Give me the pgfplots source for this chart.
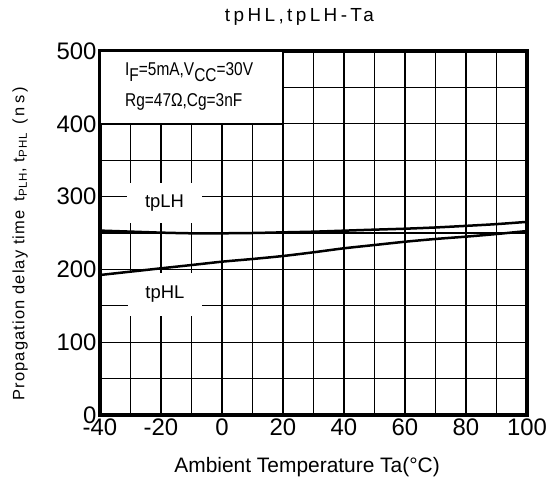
\documentclass[border=0pt]{standalone}
\usepackage{fontspec}
\setmainfont{Liberation Sans}
\usepackage{graphicx}
\usepackage{pgfplots}
\pgfplotsset{compat=1.18}
\newcommand{\lowsub}[1]{\raisebox{-4.5bp}{#1}}

\begin{document}
\begin{tikzpicture}
\begin{axis}[
    scale only axis,
    width=427bp, height=364bp,
    xmin=-40, xmax=100, ymin=0, ymax=500,
    xtick={-40,-20,...,100},
    minor xtick={-30,-10,...,90},
    ytick={0,100,...,500},
    minor ytick={50,150,...,450},
    grid=both,
    major grid style={black, line width=1.1bp},
    minor grid style={black, line width=1.1bp},
    tick style={draw=none},
    axis line style={line width=3.5bp},
    /pgf/number format/assume math mode=true,
    ticklabel style={font=\fontsize{24}{26}\selectfont},
    xlabel={Ambient Temperature Ta(°C)},
    xlabel style={font=\fontsize{21}{23}\selectfont, at={(axis description cs:0.485,-0.143)}, anchor=center},
    ylabel={\addfontfeature{LetterSpace=7}Propagation delay time\hspace{9bp}t\textsubscript{PLH}, t\textsubscript{PHL}\hspace{8bp}{\addfontfeature{LetterSpace=20}(ns)}},
    ylabel style={font=\fontsize{16.5}{18}\selectfont, at={(axis description cs:-0.187,0.471)}, anchor=center},
    title={\addfontfeature{LetterSpace=18}tpHL,tpLH-Ta},
    title style={font=\fontsize{19}{21}\selectfont, at={(axis description cs:0.467,1.078)}, anchor=center},
    clip=false,
]
% condition box
\draw[line width=2.5bp, fill=white] (axis cs:-40,400) rectangle (axis cs:20,500);
\node[anchor=west, font=\fontsize{15.5}{17}\selectfont, inner sep=0pt] at (axis cs:-31.8,471) {\scalebox{1}[1.2]{I\lowsub{F}=5mA,V\lowsub{CC}=30V}};
\node[anchor=west, font=\fontsize{15.5}{17}\selectfont, inner sep=0pt] at (axis cs:-31.8,430) {\scalebox{1}[1.2]{Rg=47Ω,Cg=3nF}};
% curve labels
\node[fill=white, minimum width=75bp, minimum height=40bp, inner sep=0pt, font=\fontsize{18.5}{20}\selectfont] at (axis cs:-18.85,291.2) {tpLH};
\node[fill=white, minimum width=74bp, minimum height=43bp, inner sep=0pt, font=\fontsize{18.5}{20}\selectfont] at (axis cs:-18.7,165.5) {tpHL};
% tpLH
\addplot[black, line width=2.5bp, smooth] coordinates {
(-40,253.3) (-30,251.9) (-20,250.5) (-10,249.6) (0,249.6) (10,250.0) (20,250.9)
(30,251.8) (40,253.2) (50,254.6) (60,255.9) (70,257.6) (80,259.8) (90,262.2) (100,265.3)};
% tpHL
\addplot[black, line width=2.5bp, smooth] coordinates {
(-40,192.3) (-30,196.9) (-20,201.5) (-10,206.0) (0,210.6) (10,214.3) (20,218.4)
(30,223.5) (40,229.0) (50,233.5) (60,238.0) (70,241.8) (80,245.0) (90,248.6) (100,252.7)};
\coordinate (sw) at (rel axis cs:0,0);
\coordinate (ne) at (rel axis cs:1,1);
\end{axis}
\pgfresetboundingbox
\path ([shift={(-100bp,-65bp)}]sw) rectangle ([shift={(22bp,51bp)}]ne);
\end{tikzpicture}
\end{document}
